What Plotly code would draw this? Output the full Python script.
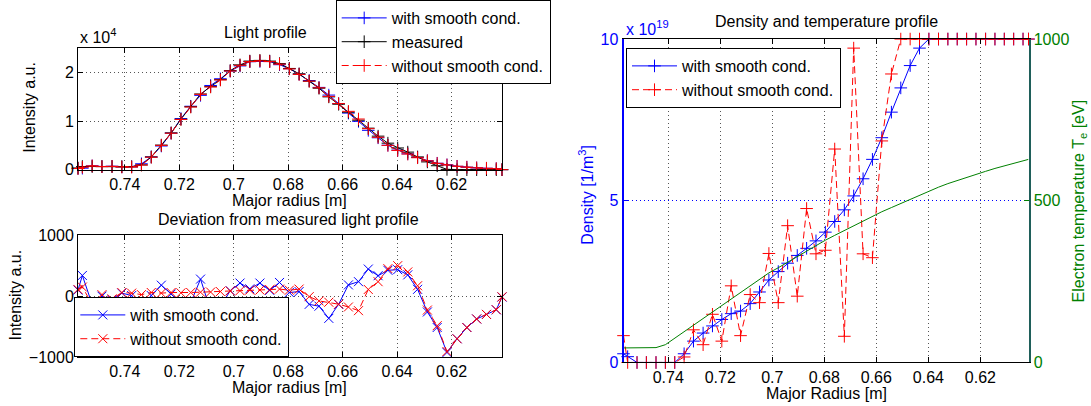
import plotly.graph_objects as go

W, H = 1091, 406

# Major radius grid [m]
radius = [0.7572, 0.7556, 0.7520, 0.7484, 0.7447, 0.7411, 0.7375, 0.7339, 0.7303,
          0.7266, 0.7230, 0.7194, 0.7158, 0.7122, 0.7085, 0.7049, 0.7013, 0.6977,
          0.6941, 0.6904, 0.6868, 0.6832, 0.6796, 0.6760, 0.6723, 0.6687, 0.6651,
          0.6615, 0.6579, 0.6542, 0.6506, 0.6470, 0.6434, 0.6398, 0.6361, 0.6325,
          0.6289, 0.6253, 0.6217, 0.6180, 0.6144, 0.6108, 0.6072, 0.6036, 0.6015]

# Light profile (intensity, a.u.)
light_measured = [350, 650, 650, 650, 640, 620, 600, 980, 2620, 5050, 7550, 10370,
                  12930, 15550, 17060, 18500, 20350, 21530, 22310, 22450, 22310,
                  21790, 20800, 19690, 18180, 16740, 14960, 13450, 11810, 10170,
                  8530, 6890, 5450, 4460, 3610, 2625, 1600, 810, 60, 0, 0, 0, 0, 0, 0]
light_with = [250, 310, 785, 650, 700, 570, 590, 1215, 2610, 4870, 7515, 10490,
              13035, 15270, 17300, 18680, 20260, 21315, 22190, 22235, 22215, 21565,
              20740, 19615, 18315, 16905, 15325, 13585, 11625, 9932, 8085, 6554,
              5025, 4025, 3260, 2513, 1860, 1325, 995, 700, 515, 375, 300, 225, 15]
light_without = [240, 500, 785, 625, 685, 560, 550, 955, 2560, 5000, 7490, 10315,
                 12870, 15485, 16992, 18425, 20265, 21440, 22210, 22350, 22202,
                 21674, 20702, 19574, 18188, 16818, 15060, 13582, 11988, 10408,
                 8420, 6652, 4998, 3959, 3212, 2454, 1828, 1295, 970, 700, 515,
                 375, 300, 222, 10]

# Deviation from the measured light profile
dev_with = [100, 340, -135, 0, -60, 50, 10, -235, 10, 180, 35, -120, -105, 280,
            -240, -180, 90, 215, 120, 215, 95, 225, 60, 75, -135, -165, -365, -135,
            185, 238, 445, 336, 425, 435, 350, 112, -260, -515, -925, -700, -515,
            -375, -300, -225, -15]
dev_without = [110, 150, -135, 25, -45, 60, 50, 25, 60, 50, 60, 55, 60, 65, 68, 75,
               85, 90, 100, 100, 108, 116, 98, 116, -8, -78, -100, -132, -178, -238,
               110, 238, 452, 501, 398, 171, -228, -485, -910, -700, -515, -375,
               -300, -222, -10]

# Density [1e19 1/m^3] and electron temperature [eV]
dens_with = [0.27, 0.18, 0, 0, 0, 0, 0, 0.27, 0.66, 0.91, 1.13, 1.33, 1.51, 1.59,
             1.82, 2.18, 2.55, 2.81, 3.07, 3.31, 3.53, 3.76, 4.03, 4.36, 4.72, 5.15,
             5.68, 6.28, 6.95, 7.74, 8.49, 9.18, 9.72, 10, 10, 10, 10, 10, 10, 10,
             10, 10, 10, 10, 10]
dens_without = [0.83, 0, 0, 0, 0, 0, 0, 0.17, 1.01, 0.55, 1.49, 0.66, 2.37, 0.83,
                2.10, 1.85, 3.37, 1.85, 4.23, 2.05, 4.76, 3.36, 3.47, 6.6, 0.81, 9.72,
                3.36, 3.24, 6.85, 8.92, 10, 10, 10, 10, 10, 10, 10, 10, 10, 10, 10,
                10, 10, 10, 10]
temp_e = [45, 45, 45, 45, 46, 55, 75, 97, 117, 138, 158, 178, 197, 218, 238, 258,
          277, 293, 310, 328, 346, 362, 378, 393, 408, 423, 438, 452, 466, 479, 492,
          505, 518, 530, 542, 553, 563, 573, 582, 591, 600, 608, 616, 624, 628]

radius_ticks = [0.74, 0.72, 0.70, 0.68, 0.66, 0.64, 0.62]
radius_tick_text = ["0.74", "0.72", "0.7", "0.68", "0.66", "0.64", "0.62"]
radius_range = [0.7572, 0.6015]

BLUE = "#0000ff"
RED = "#ff0000"
BLACK = "#000000"
GREEN = "#008000"
FONT = "Liberation Sans, Arial, Helvetica, sans-serif"
FS = 16
DASH = "7px,4px"
GRID_DASH = "1px,3px"


def fx(px):
    return px / W


def fy(py):
    return 1 - py / H


fig = go.Figure()


def marker(symbol, color):
    return dict(symbol=symbol, size=9, color=color, line=dict(width=1, color=color))


# Light profile
fig.add_trace(go.Scatter(x=radius, y=light_with, mode="lines+markers",
                         name="with smooth cond.", line=dict(color=BLUE, width=1),
                         marker=marker("cross-thin", BLUE), cliponaxis=False,
                         xaxis="x", yaxis="y", legend="legend"))
fig.add_trace(go.Scatter(x=radius, y=light_measured, mode="lines+markers",
                         name="measured", line=dict(color=BLACK, width=1),
                         marker=marker("cross-thin", BLACK), cliponaxis=False,
                         xaxis="x", yaxis="y", legend="legend"))
fig.add_trace(go.Scatter(x=radius, y=light_without, mode="lines+markers",
                         name="without smooth cond.",
                         line=dict(color=RED, width=1, dash=DASH),
                         marker=marker("cross-thin", RED), cliponaxis=False,
                         xaxis="x", yaxis="y", legend="legend"))

# Deviation
fig.add_trace(go.Scatter(x=radius, y=dev_with, mode="lines+markers",
                         name="with smooth cond.", line=dict(color=BLUE, width=1),
                         marker=marker("x-thin", BLUE), cliponaxis=False,
                         xaxis="x2", yaxis="y2", legend="legend2"))
fig.add_trace(go.Scatter(x=radius, y=dev_without, mode="lines+markers",
                         name="without smooth cond.",
                         line=dict(color=RED, width=1, dash=DASH),
                         marker=marker("x-thin", RED), cliponaxis=False,
                         xaxis="x2", yaxis="y2", legend="legend2"))

# Density and temperature
fig.add_trace(go.Scatter(x=radius, y=temp_e, mode="lines", showlegend=False,
                         line=dict(color=GREEN, width=1),
                         xaxis="x3", yaxis="y4"))
fig.add_trace(go.Scatter(x=radius, y=dens_with, mode="lines+markers",
                         name="with smooth cond.", line=dict(color=BLUE, width=1),
                         marker=marker("cross-thin", BLUE), cliponaxis=False,
                         xaxis="x3", yaxis="y3", legend="legend3"))
fig.add_trace(go.Scatter(x=radius, y=dens_without, mode="lines+markers",
                         name="without smooth cond.",
                         line=dict(color=RED, width=1, dash=DASH),
                         marker=marker("cross-thin", RED), cliponaxis=False,
                         xaxis="x3", yaxis="y3", legend="legend3"))

common_x = dict(range=radius_range, tickvals=radius_ticks, ticktext=radius_tick_text,
                showgrid=True, gridcolor="#555555", griddash=GRID_DASH, gridwidth=1,
                zeroline=False, showline=True, linecolor=BLACK, linewidth=1,
                mirror="ticks", ticks="inside", ticklen=5, tickcolor=BLACK,
                tickfont=dict(size=FS, color=BLACK), automargin=False)
box_y = dict(showgrid=True, gridcolor="#555555", griddash=GRID_DASH, gridwidth=1,
             zeroline=False, showline=True, linecolor=BLACK, linewidth=1,
             mirror="ticks", ticks="inside", ticklen=5, tickcolor=BLACK,
             tickfont=dict(size=FS, color=BLACK), automargin=False)

left_dom = [fx(78), fx(502)]
right_dom = [fx(623.5), fx(1028.5)]

fig.update_layout(
    width=W, height=H,
    margin=dict(l=0, r=0, t=0, b=0),
    paper_bgcolor="white", plot_bgcolor="white",
    font=dict(family=FONT, size=FS, color=BLACK),
    xaxis=dict(domain=left_dom, anchor="y", **common_x),
    yaxis=dict(domain=[fy(160), fy(33.3)], anchor="x", range=[0, 25000],
               tickvals=[0, 10000, 20000], ticktext=["0", "1", "2"], **box_y),
    xaxis2=dict(domain=left_dom, anchor="y2", **common_x),
    yaxis2=dict(domain=[fy(355), fy(228.3)], anchor="x2", range=[-1000, 1000],
                tickvals=[-1000, 0, 1000], ticktext=["\u22121000", "0", "1000"], **box_y),
    xaxis3=dict(domain=right_dom, anchor="y3", **common_x),
    yaxis3=dict(domain=[fy(360.7), fy(24)], anchor="x3", range=[0, 10],
                tickvals=[0, 5, 10], showgrid=True, gridcolor=BLUE,
                griddash=GRID_DASH, gridwidth=1, zeroline=False, showline=True,
                linecolor=BLUE, linewidth=2, ticks="inside", ticklen=5,
                tickcolor=BLUE, tickfont=dict(size=FS, color=BLUE), automargin=False),
    yaxis4=dict(overlaying="y3", anchor="x3", side="right", range=[0, 1000],
                tickvals=[0, 500, 1000], showgrid=False, zeroline=False,
                showline=True, linecolor="#1f5f5a", linewidth=2, ticks="inside",
                ticklen=5, tickcolor=GREEN, tickfont=dict(size=FS, color=GREEN),
                automargin=False),
    legend=dict(x=fx(335.7), y=fy(70.7), xanchor="left", yanchor="bottom",
                bgcolor="white", bordercolor=BLACK, borderwidth=1,
                font=dict(size=FS, color=BLACK), itemwidth=45, tracegroupgap=0),
    legend2=dict(x=fx(74.3), y=fy(355), xanchor="left", yanchor="bottom",
                 bgcolor="white", bordercolor=BLACK, borderwidth=1,
                 font=dict(size=FS, color=BLACK), itemwidth=45, tracegroupgap=0),
    legend3=dict(x=fx(626), y=fy(33.3), xanchor="left", yanchor="top",
                 bgcolor="white", bordercolor=BLACK, borderwidth=1,
                 font=dict(size=FS, color=BLACK), itemwidth=45, tracegroupgap=0),
)


def label(text, x, y, color=BLACK, angle=0, xanchor="center", yanchor="middle"):
    fig.add_annotation(text=text, x=fx(x), y=fy(y), xref="paper", yref="paper",
                       showarrow=False, textangle=angle, xanchor=xanchor,
                       yanchor=yanchor, font=dict(size=FS, color=color, family=FONT))


# Titles
label("Light profile", 265, 17)
label("Deviation from measured light profile", 288, 211.7)
label("Density and temperature profile", 826, 6)

# Axis titles
label("Major radius [m]", 289, 191.7)
label("Major radius [m]", 289, 386.7)
label("Major Radius [m]", 826, 392.7)
label("Intensity a.u.", 29.5, 95, angle=-90)
label("Intensity a.u.", 16, 291, angle=-90)
label("Density [1/m<sup>3</sup>]", 586, 186, color=BLUE, angle=-90)
label("Electron temperature T<sub>e</sub> [eV]", 1079, 193, color=GREEN, angle=-90)

# Axis scale factors
label("x 10<sup>4</sup>", 78, 21, xanchor="left")
label("x 10<sup>19</sup>", 624, 12, color=BLUE, xanchor="left")

fig.write_html("out.html")
